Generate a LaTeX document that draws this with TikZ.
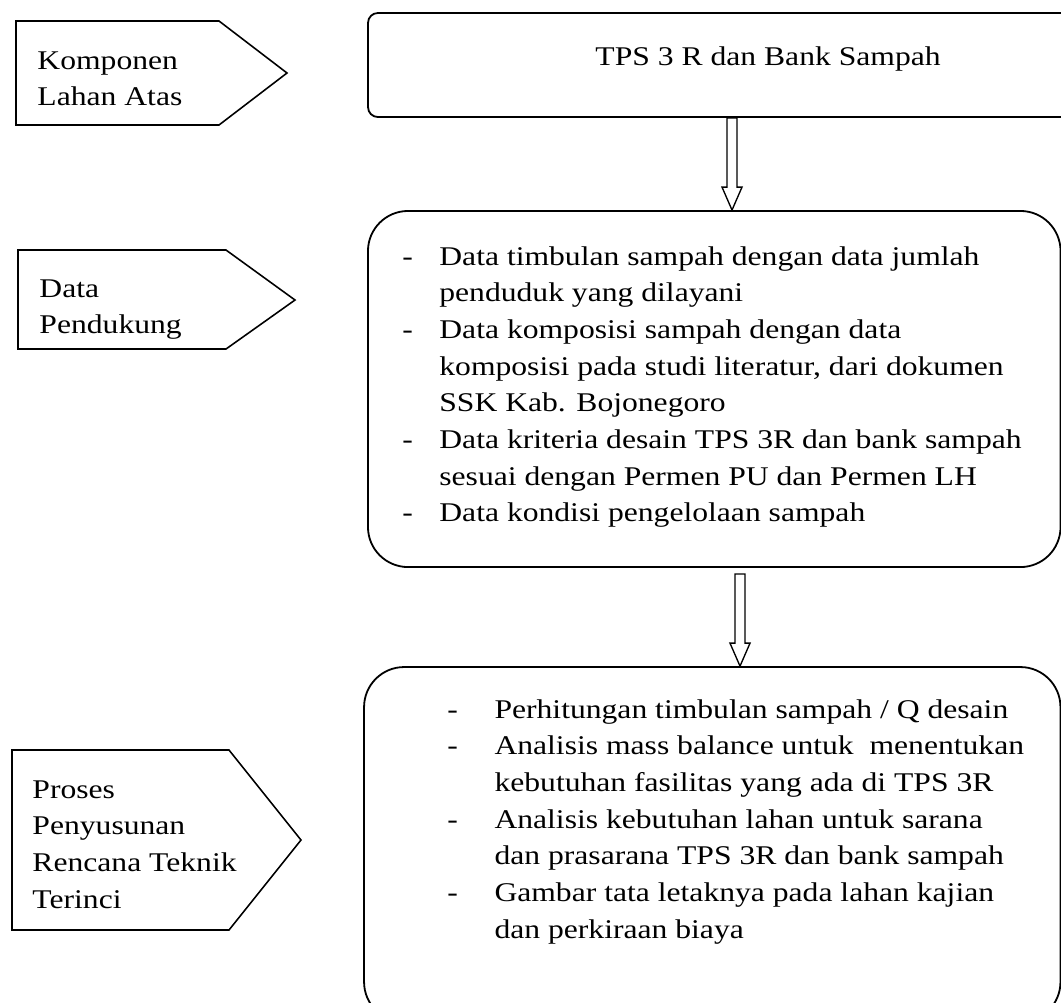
\documentclass[tikz,border=0pt]{standalone}
\usepackage{fontspec}
\setmainfont{Liberation Serif}[FakeStretch=1.17]
\usepackage{tikz}
\usetikzlibrary{positioning, calc}
\newcommand{\bodyfont}{\fontsize{12}{16.3}\selectfont}
\tikzset{
    tag/.style = {draw=black, line width=0.7pt, line join=miter},
    tagtext/.style = {anchor=base west, inner sep=0pt, font=\bodyfont},
    box/.style = {rectangle, draw=black, line width=0.8pt, inner sep=0pt,
                  rounded corners=17.8pt},
    hollow/.style = {draw=black, line width=0.6pt, line join=miter},
}
% open block arrow going down, from #1 to the tip #2
\newcommand{\blockarrow}[2]{%
  \draw[hollow] let \p1=(#1), \p2=(#2) in
    (\x1-2.22pt,\y1) -- (\x1-2.22pt,\y2+10.2pt) -- (\x1-4.44pt,\y2+10.2pt)
    -- (\x2,\y2) -- (\x1+4.44pt,\y2+10.2pt) -- (\x1+2.22pt,\y2+10.2pt)
    -- (\x1+2.22pt,\y1) -- cycle;}

\begin{document}
\begin{tikzpicture}[x=0.444pt, y=-0.444pt]
        \useasboundingbox (0,0) rectangle (1061,1002);
        % tags on the left
        \draw[tag] (16,21) -- (219,21) -- (287,73) -- (219,125) -- (16,125) -- cycle;
        \draw[tag] (18,250) -- (226,250) -- (295,300) -- (226,349) -- (18,349) -- cycle;
        \draw[tag] (12,750) -- (229,750) -- (301,840) -- (229,930) -- (12,930) -- cycle;
        \node[tagtext] (komponen) at (37,69)
            {\begin{tabular}[t]{@{}l@{}}Komponen\\Lahan Atas\end{tabular}};
        \node[tagtext] (pendukung) at (39,297)
            {\begin{tabular}[t]{@{}l@{}}Data\\Pendukung\end{tabular}};
        \node[tagtext] (penyusunan) at (32,798)
            {\begin{tabular}[t]{@{}l@{}}Proses\\Penyusunan\\Rencana Teknik\\Terinci\end{tabular}};

        % boxes
        \node[box, rounded corners=4.4pt, minimum width=313.9pt, minimum height=46.2pt]
            (tps) at (721.5,65) {};
        \node[box, minimum width=307.5pt, minimum height=158.1pt] (data) at (714.25,389) {};
        \node[box, minimum width=309.2pt, minimum height=157.6pt] (proses) at (712.25,844.5) {};

        \node[tagtext] (tpstext) at (595,65) {TPS 3 R dan Bank Sampah};
        \node[tagtext] (datalist) at (402,265) {%
          \begin{tabular}[t]{@{}p{16.4pt}@{}l@{}}
          - & Data timbulan sampah dengan data jumlah\\
            & penduduk yang dilayani\\
          - & Data komposisi sampah dengan data\\
            & komposisi pada studi literatur, dari dokumen\\
            & SSK Kab. Bojonegoro\\
          - & Data kriteria desain TPS 3R dan bank sampah\\
            & sesuai dengan Permen PU dan Permen LH\\
          - & Data kondisi pengelolaan sampah
          \end{tabular}};
        \node[tagtext] (proseslist) at (447,718) {%
          \begin{tabular}[t]{@{}p{20.9pt}@{}l@{}}
          - & Perhitungan timbulan sampah / Q desain\\
          - & Analisis mass balance untuk~ menentukan\\
            & kebutuhan fasilitas yang ada di TPS 3R\\
          - & Analisis kebutuhan lahan untuk sarana\\
            & dan prasarana TPS 3R dan bank sampah\\
          - & Gambar tata letaknya pada lahan kajian\\
            & dan perkiraan biaya
          \end{tabular}};

        % arrows between boxes
        \coordinate (a1) at (732,0);
        \coordinate (a2) at (740,0);
        \blockarrow{tps.south -| a1}{data.north -| a1}
        \blockarrow{$(data.south -| a2)+(0,6)$}{proses.north -| a2}
      \end{tikzpicture}
\end{document}
